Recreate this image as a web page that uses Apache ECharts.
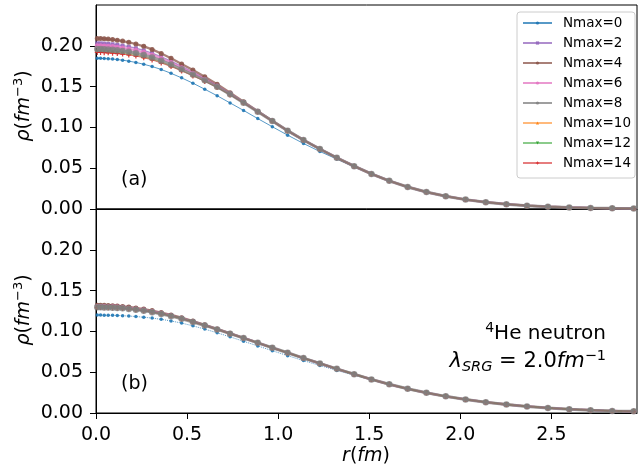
<!DOCTYPE html>
<html>
<head>
<meta charset="utf-8">
<script src="https://cdn.jsdelivr.net/npm/echarts@6/dist/echarts.min.js"></script>
<style>html,body{margin:0;padding:0;background:#fff}#c{width:639px;height:472px}</style>
</head>
<body>
<div id="c"></div>
<script>
// radial mesh (fm)
const r = [0.007,0.025,0.045,0.067,0.091,0.117,0.146,0.180,0.219,0.262,0.308,0.358,0.412,0.470,0.532,0.597,0.665,0.736,0.810,0.888,0.968,
           1.052,1.139,1.229,1.322,1.417,1.512,1.610,1.711,1.814,1.920,2.029,2.140,2.253,2.366,2.481,2.598,2.715,2.834,2.952];
const names = ['Nmax=0','Nmax=2','Nmax=4','Nmax=6','Nmax=8','Nmax=10','Nmax=12','Nmax=14'];
const xTicks = [0, 0.5, 1.0, 1.5, 2.0, 2.5];
const yTicks = [0, 0.05, 0.10, 0.15, 0.20];

// panel (a): shared tail (r >= 1.052) where Nmax>=2 curves coincide
const tailA = [0.0960,0.0845,0.0735,0.0627,0.0525,0.0430,0.0345,0.0270,0.0208,0.0157,0.0115,0.0083,0.0059,0.0041,0.0028,0.0019,0.0013,0.0009,0.0006];
const a0  = [0.1847,0.1846,0.1844,0.1841,0.1837,0.1832,0.1824,0.1812,0.1796,0.1774,0.1746,0.1710,0.1663,0.1607,0.1542,0.1468,0.1388,0.1300,0.1208,0.1108,0.1008,
             0.0905,0.0803,0.0705,0.0612,0.0517,0.0428,0.0345,0.0270,0.0208,0.0157,0.0115,0.0083,0.0059,0.0041,0.0028,0.0019,0.0013,0.0009,0.0006];
const a2  = [0.2030,0.2030,0.2027,0.2024,0.2019,0.2012,0.2002,0.1989,0.1970,0.1945,0.1911,0.1866,0.1812,0.1748,0.1677,0.1601,0.1515,0.1416,0.1309,0.1196,0.1079, ...tailA];
const a4  = [0.2090,0.2090,0.2087,0.2082,0.2077,0.2069,0.2058,0.2043,0.2022,0.1993,0.1956,0.1906,0.1848,0.1778,0.1703,0.1621,0.1529,0.1426,0.1315,0.1199,0.1081, ...tailA];
const a6  = [0.2000,0.2000,0.1998,0.1994,0.1990,0.1983,0.1974,0.1962,0.1944,0.1920,0.1888,0.1845,0.1794,0.1732,0.1665,0.1591,0.1508,0.1411,0.1306,0.1194,0.1079, ...tailA];
const a8  = [0.1960,0.1960,0.1958,0.1955,0.1951,0.1945,0.1937,0.1926,0.1910,0.1888,0.1858,0.1818,0.1770,0.1712,0.1648,0.1578,0.1498,0.1405,0.1302,0.1192,0.1078, ...tailA];
const a10 = [0.1938,0.1938,0.1936,0.1933,0.1930,0.1924,0.1917,0.1906,0.1891,0.1870,0.1842,0.1803,0.1757,0.1701,0.1639,0.1571,0.1493,0.1401,0.1300,0.1191,0.1078, ...tailA];
const a12 = [0.1928,0.1928,0.1926,0.1924,0.1920,0.1915,0.1907,0.1897,0.1882,0.1862,0.1834,0.1796,0.1751,0.1696,0.1635,0.1567,0.1490,0.1400,0.1299,0.1190,0.1077, ...tailA];
const a14 = [0.1918,0.1918,0.1916,0.1914,0.1910,0.1905,0.1898,0.1888,0.1874,0.1854,0.1827,0.1789,0.1745,0.1691,0.1630,0.1564,0.1488,0.1398,0.1298,0.1190,0.1077, ...tailA];

// panel (b)
const tailB = [0.0738,0.0673,0.0608,0.0541,0.0476,0.0412,0.0352,0.0297,0.0248,0.0204,0.0166,0.0132,0.0104,0.0081,0.0062,0.0047,0.0035,0.0026,0.0020];
const b0  = [0.1200,0.1200,0.1199,0.1198,0.1197,0.1195,0.1192,0.1188,0.1182,0.1174,0.1163,0.1148,0.1128,0.1102,0.1068,0.1028,0.0983,0.0933,0.0879,0.0822,0.0763,
             0.0703,0.0642,0.0582,0.0522,0.0464,0.0405,0.0349,0.0296,0.0248,0.0204,0.0166,0.0132,0.0104,0.0081,0.0062,0.0047,0.0035,0.0026,0.0020];
const b2  = [0.1313,0.1313,0.1312,0.1311,0.1308,0.1305,0.1300,0.1292,0.1281,0.1268,0.1250,0.1226,0.1198,0.1164,0.1123,0.1079,0.1028,0.0975,0.0920,0.0861,0.0800, ...tailB];
const b4  = [0.1320,0.1320,0.1319,0.1318,0.1315,0.1312,0.1306,0.1299,0.1288,0.1273,0.1255,0.1231,0.1202,0.1168,0.1126,0.1081,0.1030,0.0976,0.0920,0.0861,0.0800, ...tailB];
const b6  = [0.1305,0.1305,0.1304,0.1303,0.1301,0.1298,0.1292,0.1285,0.1275,0.1261,0.1244,0.1221,0.1193,0.1160,0.1119,0.1076,0.1026,0.0974,0.0919,0.0860,0.0800, ...tailB];
const b8  = [0.1295,0.1295,0.1294,0.1293,0.1291,0.1288,0.1283,0.1276,0.1266,0.1253,0.1236,0.1214,0.1187,0.1155,0.1115,0.1073,0.1024,0.0972,0.0918,0.0860,0.0800, ...tailB];
const b10 = [0.1299,0.1299,0.1298,0.1297,0.1295,0.1292,0.1287,0.1280,0.1269,0.1256,0.1239,0.1217,0.1189,0.1157,0.1117,0.1074,0.1025,0.0973,0.0918,0.0860,0.0800, ...tailB];
const b12 = [0.1296,0.1296,0.1295,0.1294,0.1292,0.1289,0.1284,0.1277,0.1267,0.1254,0.1237,0.1215,0.1188,0.1156,0.1116,0.1073,0.1024,0.0972,0.0918,0.0860,0.0800, ...tailB];
const b14 = [0.1292,0.1292,0.1291,0.1290,0.1288,0.1285,0.1280,0.1273,0.1263,0.1251,0.1234,0.1212,0.1185,0.1153,0.1114,0.1072,0.1023,0.0972,0.0918,0.0860,0.0800, ...tailB];

const panelA = [a0,a2,a4,a6,a8,a10,a12,a14];
const panelB = [b0,b2,b4,b6,b8,b10,b12,b14];

const colors = ['#1f77b4','#9467bd','#8c564b','#e377c2','#7f7f7f','#ff7f0e','#2ca02c','#d62728'];
const widths = [1, 1.3, 2.3, 2.3, 3, 1, 1, 1];
const lineAlpha = [0.75, 0.75, 0.75, 0.75, 0.75, 0.55, 0.55, 0.6];
const markAlpha = [0.9, 0.9, 0.9, 0.9, 0.8, 0.9, 0.9, 0.9];
const zOrder = [2.0, 2.01, 2.02, 2.03, 2.5, 2.05, 2.06, 2.07];
const plusPath = 'path://M3,0H5V3H8V5H5V8H3V5H0V3H3Z';
const symbols = ['circle','rect','circle','circle','circle','triangle','triangle',plusPath];
const symRot = [0,0,0,0,0,0,180,0];
const symSizes = [3.5, 4, 5, 5, 6.5, 4, 4, 5];
const bTypes = ['dotted','solid','solid','dashed','solid','solid','solid','solid'];

const FONT = 'DejaVu Sans';
const series = [];
function mk(vals, i, panel) {
  return {
    name: names[i], type: 'line',
    xAxisIndex: panel, yAxisIndex: panel,
    data: r.map((x, k) => [x, vals[k]]),
    symbol: symbols[i], symbolSize: symSizes[i], symbolRotate: symRot[i],
    showSymbol: true, animation: false, z: zOrder[i],
    lineStyle: { color: colors[i], width: widths[i], opacity: lineAlpha[i], type: panel === 0 ? 'solid' : bTypes[i] },
    itemStyle: { color: colors[i], opacity: markAlpha[i] },
    emphasis: { disabled: true }
  };
}
panelA.forEach((v, i) => series.push(mk(v, i, 0)));
panelB.forEach((v, i) => series.push(mk(v, i, 1)));

const axisCommonY = () => ({
  type: 'value', min: 0, max: 0.25, interval: 0.05,
  axisLine: { show: true, lineStyle: { color: '#000', width: 1 } },
  axisTick: { show: true, length: 6, lineStyle: { color: '#000', width: 1 }, customValues: yTicks },
  axisLabel: { show: true, customValues: yTicks, formatter: v => v.toFixed(2), fontFamily: FONT, fontSize: 19, color: '#000', margin: 13 },
  splitLine: { show: false }
});

const chart = echarts.init(document.getElementById('c'), null, { renderer: 'canvas' });
chart.setOption({
  backgroundColor: '#fff',
  animation: false,
  grid: [
    { left: 96, top: 5, width: 541, height: 204, show: true, borderColor: '#000', borderWidth: 1, backgroundColor: 'transparent' },
    { left: 96, top: 209, width: 541, height: 204, show: true, borderColor: '#000', borderWidth: 1, backgroundColor: 'transparent' }
  ],
  xAxis: [
    { gridIndex: 0, type: 'value', min: 0, max: 2.97, interval: 0.5,
      axisLine: { show: true, lineStyle: { color: '#000' } }, axisTick: { show: false }, axisLabel: { show: false }, splitLine: { show: false } },
    { gridIndex: 1, type: 'value', min: 0, max: 2.97, interval: 0.5,
      axisLine: { show: true, lineStyle: { color: '#000' } },
      axisTick: { show: true, length: 6, lineStyle: { color: '#000' }, customValues: xTicks },
      axisLabel: { show: true, customValues: xTicks, formatter: v => v.toFixed(1), fontFamily: FONT, fontSize: 19, color: '#000', margin: 13 },
      splitLine: { show: false } }
  ],
  yAxis: [ Object.assign({ gridIndex: 0 }, axisCommonY()), Object.assign({ gridIndex: 1 }, axisCommonY()) ],
  legend: {
    data: names, orient: 'vertical', left: 522, top: 16, padding: 0,
    itemWidth: 29, itemHeight: 4, itemGap: 6,
    textStyle: { fontFamily: FONT, fontSize: 13.5, color: '#000', lineHeight: 14, padding: [0, 0, 0, 6] },
    z: 10, selectedMode: false
  },
  graphic: [
    { type: 'rect', z: 9, shape: { x: 517, y: 12, width: 118, height: 166, r: 3 },
      style: { fill: 'rgba(255,255,255,0.8)', stroke: '#cccccc', lineWidth: 1 } },
    { type: 'text', z: 20, x: 121, y: 180, style: { text: '(a)', font: '19px "DejaVu Sans"', fill: '#000', align: 'left', verticalAlign: 'middle' } },
    { type: 'text', z: 20, x: 121, y: 384, style: { text: '(b)', font: '19px "DejaVu Sans"', fill: '#000', align: 'left', verticalAlign: 'middle' } },
    { type: 'text', z: 20, x: 606, y: 334, style: {
        text: '{s|4}{n|He neutron}', align: 'right', verticalAlign: 'middle',
        rich: { n: { fontFamily: FONT, fontSize: 20, lineHeight: 26, fill: '#000' },
                s: { fontFamily: FONT, fontSize: 14, lineHeight: 14, verticalAlign: 'top', fill: '#000' } } } },
    { type: 'text', z: 20, x: 606, y: 362, style: {
        text: '{i|λ}{sub|SRG}{n| = 2.0}{i|fm}{s|−1}', align: 'right', verticalAlign: 'middle',
        rich: { n: { fontFamily: FONT, fontSize: 21, lineHeight: 26, fill: '#000' },
                i: { fontFamily: FONT, fontSize: 21, fontStyle: 'italic', lineHeight: 26, fill: '#000' },
                sub: { fontFamily: FONT, fontSize: 14.5, fontStyle: 'italic', lineHeight: 14, verticalAlign: 'bottom', fill: '#000' },
                s: { fontFamily: FONT, fontSize: 14.5, lineHeight: 14, verticalAlign: 'top', fill: '#000' } } } },
    { type: 'text', z: 20, x: 366, y: 456, style: {
        text: '{i|r}{n|(}{i|fm}{n|)}', align: 'center', verticalAlign: 'middle',
        rich: { n: { fontFamily: FONT, fontSize: 19, lineHeight: 24, fill: '#000' },
                i: { fontFamily: FONT, fontSize: 19, fontStyle: 'italic', lineHeight: 24, fill: '#000' } } } },
    { type: 'text', z: 20, x: 24, y: 106, rotation: Math.PI / 2, style: {
        text: '{i|ρ}{n|(}{i|fm}{s|−3}{n|)}', align: 'center', verticalAlign: 'middle',
        rich: { n: { fontFamily: FONT, fontSize: 19, lineHeight: 24, fill: '#000' },
                i: { fontFamily: FONT, fontSize: 19, fontStyle: 'italic', lineHeight: 24, fill: '#000' },
                s: { fontFamily: FONT, fontSize: 13, lineHeight: 13, verticalAlign: 'top', fill: '#000' } } } },
    { type: 'text', z: 20, x: 24, y: 310, rotation: Math.PI / 2, style: {
        text: '{i|ρ}{n|(}{i|fm}{s|−3}{n|)}', align: 'center', verticalAlign: 'middle',
        rich: { n: { fontFamily: FONT, fontSize: 19, lineHeight: 24, fill: '#000' },
                i: { fontFamily: FONT, fontSize: 19, fontStyle: 'italic', lineHeight: 24, fill: '#000' },
                s: { fontFamily: FONT, fontSize: 13, lineHeight: 13, verticalAlign: 'top', fill: '#000' } } } }
  ],
  series: series
});
</script>
</body>
</html>
